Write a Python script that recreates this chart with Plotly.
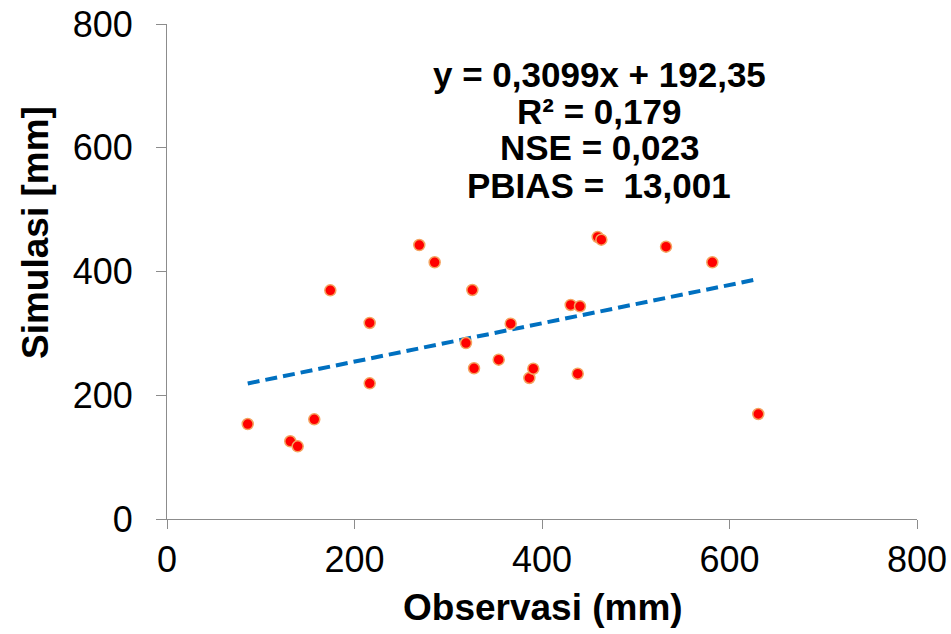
import plotly.graph_objects as go

observasi = [86.1, 131.5, 139.4, 157.1, 174.2, 216.2, 216.2, 269.1, 285.5, 318.9,
             325.7, 327.5, 353.8, 366.6, 386.5, 390.7, 430.6, 440.5, 438.1, 459.4,
             463.3, 532.3, 581.7, 630.7]
simulasi = [153.5, 125.6, 117.5, 161.1, 369.6, 316.8, 219.3, 442.8, 414.9, 284.4,
            370.1, 243.6, 257.5, 315.6, 227.9, 242.9, 345.9, 343.8, 234.8, 455.8,
            451.4, 440.1, 414.9, 169.7]
slope = 0.3099
intercept = 192.35
stats_lines = ["y = 0,3099x + 192,35", "R² = 0,179", "NSE = 0,023", "PBIAS =  13,001"]
tick_vals = [0, 200, 400, 600, 800]

trend_x = [min(observasi), max(observasi)]
trend_y = [slope * v + intercept for v in trend_x]

FONT = "Liberation Sans, Arial, sans-serif"
AXC = "#8c8c8c"

W, H = 951, 634
L, T, R, B = 167, 24, 34, 115
PW, PH = W - L - R, H - T - B


def px(xp):
    return (xp - L) / PW


def py(yp):
    return (H - B - yp) / PH


fig = go.Figure()
fig.add_trace(go.Scatter(x=trend_x, y=trend_y, mode="lines",
                         line=dict(color="#0070C0", width=4, dash="12px,6px"),
                         hoverinfo="skip", showlegend=False))
fig.add_trace(go.Scatter(x=observasi, y=simulasi, mode="markers",
                         marker=dict(size=11, color="#FF0000",
                                     line=dict(color="#F4A460", width=1.5)),
                         showlegend=False))

stat_y = [74, 111, 148, 185]
annotations = [
    dict(text="<b>" + s + "</b>", xref="paper", yref="paper",
         x=px(599), y=py(yc), xanchor="center", yanchor="middle",
         showarrow=False, font=dict(size=35, family=FONT, color="black"))
    for s, yc in zip(stats_lines, stat_y)
]
annotations += [
    dict(text="<b>Observasi (mm)</b>", xref="paper", yref="paper",
         x=px(543), y=py(607), xanchor="center", yanchor="middle",
         showarrow=False, font=dict(size=37, family=FONT, color="black")),
    dict(text="<b>Simulasi [mm]</b>", xref="paper", yref="paper",
         x=px(35), y=py(233), xanchor="center", yanchor="middle",
         textangle=-90, showarrow=False,
         font=dict(size=37, family=FONT, color="black")),
]

fig.update_layout(
    width=W, height=H,
    margin=dict(l=L, r=R, t=T, b=B),
    paper_bgcolor="white", plot_bgcolor="white",
    font=dict(family=FONT, color="black"),
    xaxis=dict(range=[0, 800], tickvals=tick_vals, showgrid=False, zeroline=False,
               showline=True, linecolor=AXC, linewidth=1, automargin=False,
               ticks="outside", ticklen=9, tickcolor=AXC, ticklabelstandoff=0,
               ticklabeloverflow="allow",
               tickfont=dict(size=36, family=FONT)),
    yaxis=dict(range=[0, 800], tickvals=tick_vals, showgrid=False, zeroline=False,
               showline=True, linecolor=AXC, linewidth=1, automargin=False,
               ticks="outside", ticklen=10, tickcolor=AXC, ticklabelstandoff=16,
               ticklabeloverflow="allow",
               tickfont=dict(size=36, family=FONT)),
    annotations=annotations,
)

fig.write_html("out.html", config={"displayModeBar": False},
               post_script="document.body.style.margin='0';document.body.style.overflow='hidden';")
